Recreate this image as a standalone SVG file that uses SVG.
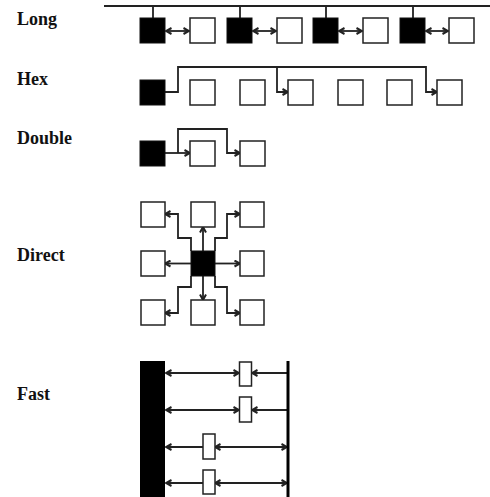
<svg xmlns="http://www.w3.org/2000/svg" width="490" height="497" viewBox="0 0 490 497">
<style>
.lbl{font-family:"Liberation Serif","Times New Roman",serif;font-weight:bold;font-size:18px;fill:#111}
.w{fill:#fff;stroke:#222;stroke-width:1.5}
.b{fill:#000;stroke:#111;stroke-width:1}
.c{fill:none;stroke:#222;stroke-width:1.8}
.a{marker-end:url(#ah)}
.aa{marker-start:url(#ah);marker-end:url(#ah)}
</style>
<defs>
<marker id="ah" viewBox="0 0 8 8" refX="7" refY="4" markerWidth="8" markerHeight="8" orient="auto-start-reverse" markerUnits="userSpaceOnUse">
<path d="M1.5,1 L7,4 L1.5,7" fill="none" stroke="#222" stroke-width="2"/>
</marker>
</defs>
<rect width="490" height="497" fill="#fff"/>
<g id="labels">
<text class="lbl" x="17" y="25">Long</text>
<text class="lbl" x="17" y="85">Hex</text>
<text class="lbl" x="17" y="144">Double</text>
<text class="lbl" x="17" y="261">Direct</text>
<text class="lbl" x="17" y="400">Fast</text>
</g>
<g id="connectors">
<path class="c" d="M104,6 H490 M153,6 V18 M240,6 V18 M326,6 V18 M413,6 V18"/>
<path class="c aa" d="M166,31 H189"/>
<path class="c aa" d="M253,31 H276"/>
<path class="c aa" d="M339,31 H362"/>
<path class="c aa" d="M426,31 H448"/>
<path class="c a" d="M165,92 H178 V67 H426 V92 H437"/>
<path class="c a" d="M277,67 V92 H288"/>
<path class="c a" d="M165,153 H190"/>
<path class="c a" d="M178,153 V129 H227 V153 H240"/>
<path class="c a" d="M203,251 V227"/>
<path class="c a" d="M203,276 V300"/>
<path class="c a" d="M191,263.5 H165"/>
<path class="c a" d="M215,263.5 H240"/>
<path class="c a" d="M191,251 V238 H178 V214 H165"/>
<path class="c a" d="M215,251 V238 H227 V214 H240"/>
<path class="c a" d="M191,276 V287 H178 V313 H165"/>
<path class="c a" d="M215,276 V287 H227 V313 H240"/>
<path class="c aa" d="M166,373 H239"/>
<path class="c a" d="M287,373 H252"/>
<path class="c aa" d="M166,410 H239"/>
<path class="c a" d="M287,410 H252"/>
<path class="c a" d="M203,447 H166"/>
<path class="c aa" d="M215,447 H287"/>
<path class="c a" d="M203,483 H166"/>
<path class="c aa" d="M215,483 H287"/>
</g>
<g id="long">
<rect class="b" x="140" y="18" width="25" height="25"/>
<rect class="w" x="190" y="18" width="25" height="25"/>
<rect class="b" x="227" y="18" width="25" height="25"/>
<rect class="w" x="277" y="18" width="25" height="25"/>
<rect class="b" x="313" y="18" width="25" height="25"/>
<rect class="w" x="363" y="18" width="25" height="25"/>
<rect class="b" x="400" y="18" width="25" height="25"/>
<rect class="w" x="449" y="18" width="25" height="25"/>
</g>
<g id="hex">
<rect class="b" x="140" y="80" width="25" height="25"/>
<rect class="w" x="190" y="80" width="25" height="25"/>
<rect class="w" x="240" y="80" width="25" height="25"/>
<rect class="w" x="288" y="80" width="25" height="25"/>
<rect class="w" x="338" y="80" width="25" height="25"/>
<rect class="w" x="387" y="80" width="25" height="25"/>
<rect class="w" x="437" y="80" width="25" height="25"/>
</g>
<g id="double">
<rect class="b" x="140" y="141" width="25" height="25"/>
<rect class="w" x="190" y="141" width="25" height="25"/>
<rect class="w" x="240" y="141" width="25" height="25"/>
</g>
<g id="direct">
<rect class="w" x="141" y="202" width="24" height="25"/>
<rect class="w" x="191" y="202" width="24" height="25"/>
<rect class="w" x="240" y="202" width="24" height="25"/>
<rect class="w" x="141" y="251" width="24" height="25"/>
<rect class="b" x="191" y="251" width="24" height="25"/>
<rect class="w" x="240" y="251" width="24" height="25"/>
<rect class="w" x="141" y="300" width="24" height="25"/>
<rect class="w" x="191" y="300" width="24" height="25"/>
<rect class="w" x="240" y="300" width="24" height="25"/>
</g>
<g id="fast">
<rect x="140" y="361" width="25" height="136" fill="#000"/>
<line x1="288" y1="361" x2="288" y2="497" stroke="#000" stroke-width="3"/>
<rect class="w" x="239.5" y="362" width="12" height="24"/>
<rect class="w" x="239.5" y="397" width="12" height="25"/>
<rect class="w" x="203" y="434" width="12" height="25"/>
<rect class="w" x="203" y="470" width="12" height="24"/>
</g>
</svg>
